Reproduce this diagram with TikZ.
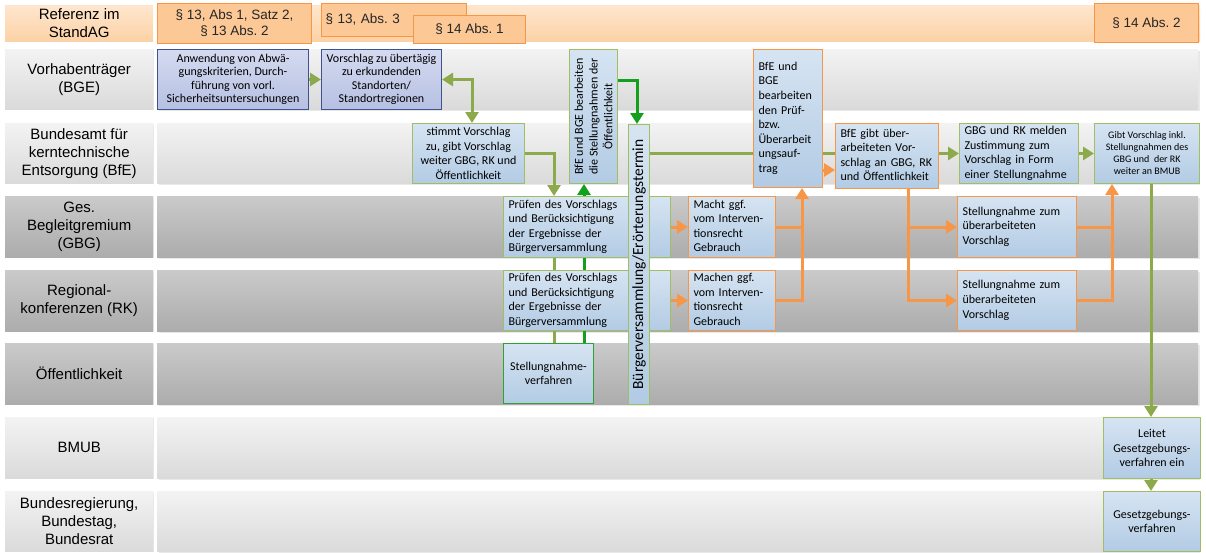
\documentclass[tikz,border=0pt]{standalone}
\usepackage{fontspec}
\setmainfont{Carlito}
\newfontfamily\arialf{Liberation Sans}
\usetikzlibrary{arrows.meta,shadows}
\frenchspacing
\setlength\parindent{0pt}
\definecolor{olv}{RGB}{140,170,76}
\definecolor{olvb}{RGB}{160,190,100}
\definecolor{grnb}{RGB}{50,160,50}
\definecolor{dgr}{RGB}{20,160,28}
\definecolor{org}{RGB}{247,150,70}
\definecolor{bxt}{RGB}{214,228,242}
\definecolor{bxb}{RGB}{178,203,228}
\definecolor{lvt}{RGB}{212,218,240}
\definecolor{lvb}{RGB}{182,192,226}
\definecolor{lvd}{RGB}{62,82,140}
\definecolor{llt}{RGB}{243,243,243}
\definecolor{llb}{RGB}{218,218,218}
\definecolor{ldt}{RGB}{202,202,202}
\definecolor{ldb}{RGB}{172,172,172}
\definecolor{ort}{RGB}{254,230,206}
\definecolor{orb}{RGB}{252,210,166}
\definecolor{orbox}{RGB}{252,200,150}
\pgfdeclarelayer{lanes}
\pgfdeclarelayer{conn}
\pgfsetlayers{lanes,conn,main}
\newcommand\TL[1]{\begin{tabular}{@{}l@{}}#1\end{tabular}}
\begin{document}
\begin{tikzpicture}[x=1pt,y=-1pt,
  nw/.style={anchor=north west,inner sep=0pt},
  sz/.style 2 args={minimum width=#1pt,minimum height=#2pt},
  lbl/.style={nw,align=center,font=\arialf\fontsize{15}{18}\selectfont,
     drop shadow={shadow xshift=1.2pt,shadow yshift=-1.2pt,opacity=.18}},
  lanelight/.style={top color=llt,bottom color=llb,draw=none},
  lanedark/.style={top color=ldt,bottom color=ldb,draw=none},
  bandlight/.style={nw,lanelight,drop shadow={shadow xshift=1.5pt,shadow yshift=-1.5pt,opacity=.18}},
  banddark/.style={nw,lanedark,drop shadow={shadow xshift=1.5pt,shadow yshift=-1.5pt,opacity=.18}},
  par/.style={nw,draw=org,line width=1pt,fill=orbox,align=center,
     font=\arialf\fontsize{13.5}{16}\selectfont,text=black!85},
  bx/.style={nw,draw=#1,line width=1pt,top color=bxt,bottom color=bxb},
  lav/.style={nw,draw=lvd,line width=1pt,top color=lvt,bottom color=lvb,align=center,
     font=\fontsize{12}{13.3}\selectfont},
  ct/.style={align=center,font=\fontsize{12}{14.6}\selectfont},
  lt/.style={align=left,inner xsep=5pt,text width=#1pt,font=\fontsize{12}{14.6}\selectfont},
  tip/.tip={Triangle[length=11pt,width=13pt]},
  garr/.style={draw=olv,line width=3pt,-tip},
  gline/.style={draw=olv,line width=3pt},
  darr/.style={draw=dgr,line width=3pt,-tip},
  dline/.style={draw=dgr,line width=3pt},
  oarr/.style={draw=org,line width=3pt,-tip},
  oline/.style={draw=org,line width=3pt},
]
\useasboundingbox (0,0) rectangle (1206,552);
\begin{pgfonlayer}{lanes}
\fill[white] (0,0) rectangle (1206,552);
% header
\node[nw,sz={148}{36},top color=ort,bottom color=orb,align=center,
  font=\arialf\fontsize{15}{18}\selectfont] (hl) at (5,5) {Referenz im\\StandAG};
\node[nw,sz={1043}{36},top color=ort,bottom color=orb] (hb) at (157,5) {};
% lane labels
\node[lbl,lanelight,sz={148}{60}] (l1) at (5,49) {Vorhabenträger\\(BGE)};
\node[lbl,lanelight,sz={148}{60}] (l2) at (5,123) {Bundesamt für\\kerntechnische\\Entsorgung (BfE)};
\node[lbl,lanedark,sz={148}{61}] (l3) at (5,196) {Ges.\\Begleitgremium\\(GBG)};
\node[lbl,lanedark,sz={148}{61}] (l4) at (5,270) {Regional-\\konferenzen (RK)};
\node[lbl,lanedark,sz={148}{61}] (l5) at (5,343) {Öffentlichkeit};
\node[lbl,lanelight,sz={148}{61}] (l6) at (5,417) {BMUB};
\node[lbl,lanelight,sz={148}{60}] (l7) at (5,491) {Bundesregierung,\\Bundestag,\\Bundesrat};
% bands
\node[bandlight,sz={1041}{60}] (b1) at (157,49) {};
\node[bandlight,sz={1041}{60}] (b2) at (157,123) {};
\node[banddark,sz={1041}{61}] (b3) at (157,196) {};
\node[banddark,sz={1041}{61}] (b4) at (157,270) {};
\node[banddark,sz={1041}{61}] (b5) at (157,343) {};
\node[bandlight,sz={1041}{61}] (b6) at (157,417) {};
\node[bandlight,sz={1041}{60}] (b7) at (157,491) {};
\end{pgfonlayer}

% paragraph references
\node[par,sz={154}{40}] (p1) at (157,3) {§ 13, Abs 1, Satz 2,\\§ 13 Abs. 2};
\node[par,align=left,inner xsep=4pt,text width=137pt,text height=20pt,text depth=13pt] (p2) at (321,3) {§ 13, Abs. 3};
\node[par,sz={112}{28}] (p3) at (413,15) {§ 14 Abs. 1};
\node[par,sz={104}{39}] (p4) at (1094,3) {§ 14 Abs. 2};

% boxes
\node[lav,sz={151}{60}] (A) at (157,49) {Anwendung von Abwä-\\gungskriterien, Durch-\\führung von vorl.\\Sicherheitsuntersuchungen};
\node[lav,sz={120}{60}] (B) at (321,49) {Vorschlag zu übertägig\\zu erkundenden\\Standorten/\\Standortregionen};
\node[bx=olvb,ct,sz={112}{60}] (C) at (412,123) {stimmt Vorschlag\\zu, gibt Vorschlag\\weiter GBG, RK und\\Öffentlichkeit};
\node[bx=olvb,sz={48}{134}] (D) at (569,49) {\rotatebox{90}{\parbox{130pt}{\centering\fontsize{12}{14.8}\selectfont BfE und BGE bearbeiten\\die Stellungnahmen der\\Öffentlichkeit}}};
\node[bx=org,lt=59,sz={69}{138}] (F) at (753,49) {\TL{BfE und\\BGE\\bearbeiten\\den Prüf-\\bzw.\\Überarbeit\\ungsauf-\\trag}};
\node[bx=org,lt=93,sz={103}{65}] (G) at (835,123) {\TL{BfE gibt über-\\arbeiteten Vor-\\schlag an GBG, RK\\und Öffentlichkeit}};
\node[bx=olvb,lt=109,sz={119}{60}] (H) at (959,123) {\TL{GBG und RK melden\\Zustimmung zum\\Vorschlag in Form\\einer Stellungnahme}};
\node[bx=olvb,align=center,font=\fontsize{10}{12}\selectfont,sz={105}{60}] (I) at (1094,123) {Gibt Vorschlag inkl.\\Stellungnahmen des\\GBG und\ \ der RK\\weiter an BMUB};
\node[bx=olvb,lt=157,sz={167}{61}] (K) at (503,196) {\TL{Prüfen des Vorschlags\\und Berücksichtigung\\der Ergebnisse der\\Bürgerversammlung}};
\node[bx=olvb,lt=157,sz={167}{60}] (L) at (503,270) {\TL{Prüfen des Vorschlags\\und Berücksichtigung\\der Ergebnisse der\\Bürgerversammlung}};
\node[bx=grnb,ct,sz={90}{60}] (M) at (503,343) {Stellungnahme-\\verfahren};
\node[bx=olvb,sz={21}{280}] (E) at (628,124) {\rotatebox{90}{\fontsize{15.5}{17}\selectfont Bürgerversammlung/Erörterungstermin}};
\node[bx=org,lt=77,sz={87}{61}] (N) at (688,196) {\TL{Macht ggf.\\vom Interven-\\tionsrecht\\Gebrauch}};
\node[bx=org,lt=77,sz={87}{60}] (O) at (688,270) {\TL{Machen ggf.\\vom Interven-\\tionsrecht\\Gebrauch}};
\node[bx=org,lt=109,sz={119}{61}] (P) at (957,196) {\TL{Stellungnahme zum\\überarbeiteten\\Vorschlag}};
\node[bx=org,lt=109,sz={119}{60}] (Q) at (957,270) {\TL{Stellungnahme zum\\überarbeiteten\\Vorschlag}};
\node[bx=olvb,ct,sz={97}{61}] (J) at (1103,417) {Leitet\\Gesetzgebungs-\\verfahren ein};
\node[bx=olvb,ct,sz={97}{60}] (R) at (1103,491) {Gesetzgebungs-\\verfahren};

% helper coordinates
\coordinate (xbc) at (472,0);
\coordinate (xo) at (554,0);
\coordinate (xd) at (584,0);
\coordinate (xe) at (637,0);
\coordinate (xn) at (802,0);
\coordinate (xg) at (908,0);
\coordinate (xp) at (1112,0);
\coordinate (xb) at (1151,0);
\coordinate (yd) at (0,80);
\coordinate (yf) at (0,170);

\begin{pgfonlayer}{conn}
\draw[garr] (A.east) -- (B.west);
\draw[draw=olv,line width=3pt,tip-tip] (B.east) -| (C.north -| xbc);
\draw[garr] (C.east) -| (K.north -| xo);
\draw[gline] (K.south -| xo) -- (L.north -| xo);
\draw[gline] (L.south -| xo) -- (M.north -| xo);
\draw[dline] (M.north -| xd) -- (L.south -| xd);
\draw[dline] (L.north -| xd) -- (K.south -| xd);
\draw[darr] (K.north -| xd) -- (D.south -| xd);
\draw[darr] (D.east |- yd) -| (E.north -| xe);
\draw[gline] (E.east |- C.east) -- (G.west |- C.east);
\draw[oarr] (F.east |- yf) -- (G.west |- yf);
\draw[garr] (G.east |- H.west) -- (H.west);
\draw[garr] (H.east) -- (I.west);
\draw[garr] (I.south -| xb) -- (J.north -| xb);
\draw[garr] (J.south -| xb) -- (R.north -| xb);
\draw[oarr] (K.east) -- (N.west);
\draw[oarr] (L.east) -- (O.west);
\draw[oarr] (N.east) -| (F.south -| xn);
\draw[oline] (O.east) -| (N.east -| xn);
\draw[oarr] (G.south -| xg) |- (Q.west);
\draw[oarr] (P.west -| xg) -- (P.west);
\draw[oarr] (P.east) -| (I.south -| xp);
\draw[oline] (Q.east) -| (P.east -| xp);
\end{pgfonlayer}
\end{tikzpicture}
\end{document}
